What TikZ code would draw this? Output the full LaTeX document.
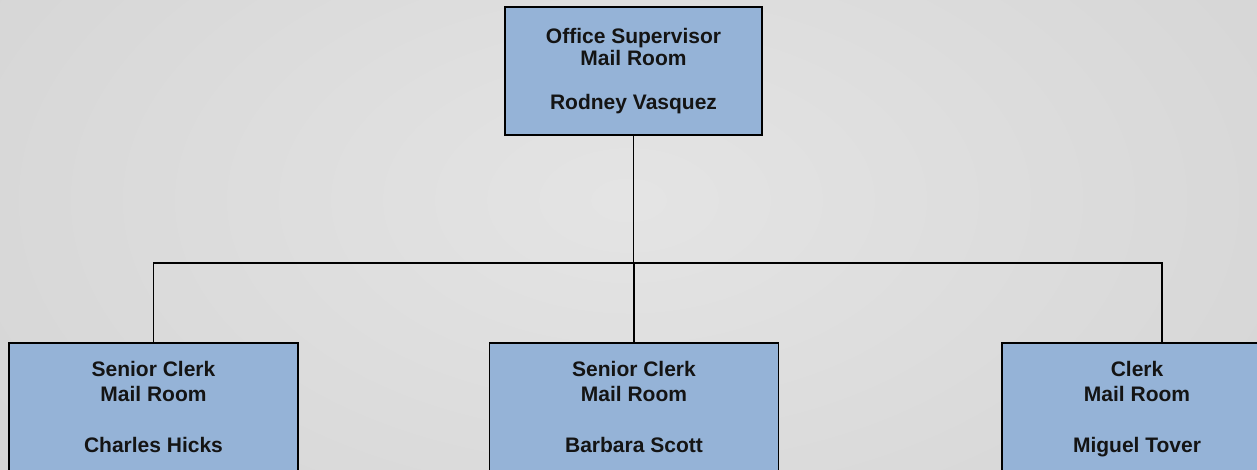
\documentclass[tikz,border=0pt]{standalone}
\usepackage{fontspec}
\setmainfont{Liberation Sans}
\pgfdeclareradialshading{bgshade}{\pgfpoint{0bp}{0bp}}{rgb(0bp)=(0.895,0.895,0.895); rgb(50bp)=(0.74,0.74,0.74); rgb(100bp)=(0.74,0.74,0.74)}
\definecolor{boxblue}{RGB}{149,179,215}
\tikzset{
  orgbox/.style={draw=black, line width=1.8pt, fill=boxblue, rectangle, inner sep=0pt,
    align=center, font=\fontsize{21}{22}\selectfont\bfseries, text=black!92},
  topbox/.style={orgbox, minimum width=257pt, minimum height=128pt},
  lowbox/.style={orgbox, minimum width=289pt, minimum height=128pt,
    font=\fontsize{21}{25.5}\selectfont\bfseries},
  conn/.style={draw=black, line width=1.8pt}
}
\begin{document}
\begin{tikzpicture}[x=1pt,y=-1pt]
\useasboundingbox (0,0) rectangle (1257,469);
\clip (0,0) rectangle (1257,469);
\shade[shading=bgshade] (-400,-400) rectangle (1657,800);
\node[topbox] (top) at (633.5,71) {Office Supervisor\\Mail Room\\ \\Rodney Vasquez};
\node[lowbox] (left) at (153.5,407) {Senior Clerk\\Mail Room\\ \\Charles Hicks};
\node[lowbox] (mid) at (634,407) {Senior Clerk\\Mail Room\\ \\Barbara Scott};
\node[lowbox, minimum width=270pt] (right) at (1137,407) {Clerk\\Mail Room\\ \\\raisebox{0pt}[\height][0pt]{Miguel Tover}};
\coordinate (bl) at (154,263);
\coordinate (br) at (1162,263);
\draw[conn] (top.south) -- (top.south |- bl);
\draw[conn] (left.north) |- (br) -- (br |- right.north);
\draw[conn] (mid.north) -- (mid.north |- bl);
\end{tikzpicture}
\end{document}
